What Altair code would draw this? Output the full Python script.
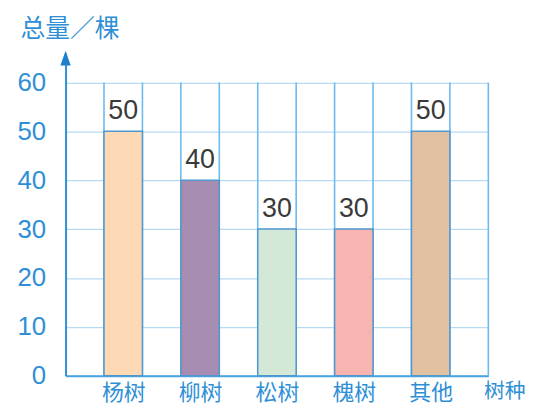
import altair as alt
import pandas as pd

categories = ["杨树", "柳树", "松树", "槐树", "其他"]
counts = [50, 40, 30, 30, 50]
colors = ["#fdd9b5", "#a88db2", "#d3e8d6", "#f7b4b1", "#e2c0a2"]
y_ticks = [0, 10, 20, 30, 40, 50, 60]
x_title = "树种"
y_title = "总量／棵"

n_cols = 2 * len(categories) + 1
slots = [2 * i + 1 for i in range(len(categories))]
bars_df = pd.DataFrame({
    "cat": categories,
    "x": slots,
    "x2": [s + 1 for s in slots],
    "xc": [s + 0.5 for s in slots],
    "v": counts,
    "base": [0] * len(categories),
})
grid_df = pd.DataFrame({
    "x": list(range(1, n_cols + 1)),
    "lo": [0] * n_cols,
    "hi": [max(y_ticks)] * n_cols,
})
arrow_df = pd.DataFrame({"x": [0], "v": [65]})

blue = "#2f8fd6"
label_js = "[" + ",".join("'%s'" % c for c in categories) + "][floor(datum.value/2)]"

xscale = alt.Scale(domain=[0, n_cols], nice=False, zero=False)
yscale = alt.Scale(domain=[0, 66], nice=False)

xaxis = alt.Axis(
    values=[s + 0.5 for s in slots], labelExpr=label_js, grid=False, ticks=False,
    domain=True, domainColor="#4aa3e0", domainWidth=2,
    labelFont="Noto Sans CJK SC", labelFontSize=22, labelColor=blue,
    labelPadding=7, labelFontWeight="normal",
    title=x_title, titleFont="Noto Sans CJK SC", titleFontSize=21, titleColor=blue,
    titleFontWeight="normal", titleX=442, titleY=16, titleAlign="center",
    titleBaseline="middle", titleAngle=0,
)
yaxis = alt.Axis(
    values=y_ticks, grid=True, gridColor="#b6dbf3", gridWidth=1.2, ticks=False,
    domain=True, domainColor="#2f8fd6", domainWidth=2,
    labelFont="Liberation Sans", labelFontSize=26, labelColor=blue,
    labelPadding=20, labelBaseline="middle",
    title=y_title, titleFont="Noto Sans CJK SC", titleFontSize=25, titleColor=blue,
    titleFontWeight="normal", titleAngle=0, titleX=4, titleY=-25,
    titleAlign="center", titleBaseline="middle",
)

base_bar = alt.Chart(bars_df)

bars = base_bar.mark_bar(stroke="#4f97cf", strokeWidth=1.5).encode(
    x=alt.X("x:Q", scale=xscale, axis=xaxis),
    x2="x2:Q",
    y=alt.Y("v:Q", scale=yscale, axis=yaxis),
    y2="base:Q",
    color=alt.Color("cat:N", scale=alt.Scale(domain=categories, range=colors), legend=None),
)

vlines = alt.Chart(grid_df).mark_rule(color="#6dbaee", strokeWidth=1.6).encode(
    x=alt.X("x:Q", scale=xscale, axis=xaxis),
    y=alt.Y("lo:Q", scale=yscale, axis=yaxis),
    y2="hi:Q",
)

labels = base_bar.mark_text(
    baseline="alphabetic", dy=-12, fontSize=27, color="#3a3a3a", font="Liberation Sans"
).encode(
    x=alt.X("xc:Q", scale=xscale, axis=xaxis),
    y=alt.Y("v:Q", scale=yscale, axis=yaxis),
    text="v:Q",
)

arrow = alt.Chart(arrow_df).mark_point(
    shape="M0,-1L0.7,1L-0.7,1Z", filled=True, size=220, color="#1f7fc8", opacity=1
).encode(
    x=alt.X("x:Q", scale=xscale, axis=xaxis),
    y=alt.Y("v:Q", scale=yscale, axis=yaxis),
)

chart = alt.layer(vlines, bars, labels, arrow).properties(
    width=426, height=325,
    autosize=alt.AutoSizeParams(type="none"),
    padding={"left": 58, "top": 44, "right": 44, "bottom": 28},
    background="white",
).configure_view(stroke=None)

chart.save("out.html", embed_options={"renderer": "svg", "actions": False})
